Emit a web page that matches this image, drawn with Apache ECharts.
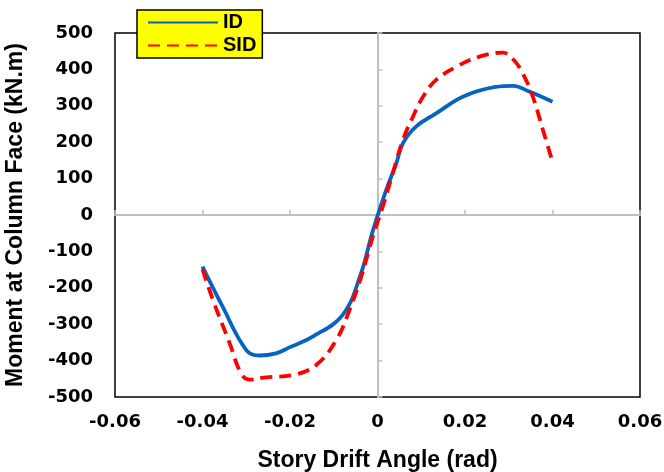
<!DOCTYPE html>
<html>
<head>
<meta charset="utf-8">
<script src="https://cdn.jsdelivr.net/npm/echarts@6/dist/echarts.min.js"></script>
<style>html,body{margin:0;padding:0;background:#fff}#c{width:664px;height:472px}</style>
</head>
<body>
<div id="c"></div>
<script>
// ID series (drift angle rad, moment kN.m)
var idX = [-0.0400, -0.0354, -0.0300, -0.0270, -0.0232, -0.0200, -0.0148, -0.0080, -0.0040, -0.0010, 0.0020, 0.0043, 0.0058, 0.0088, 0.0134, 0.0195, 0.0270, 0.0310, 0.0347, 0.0400];
var idY = [-142, -252, -371, -386, -380, -363, -334, -275, -169, -41, 69, 142, 197, 243, 279, 325, 352, 355, 339, 311];
// SID series
var sidX = [-0.0400, -0.0376, -0.0338, -0.0312, -0.0293, -0.0254, -0.0194, -0.0140, -0.0094, -0.0064, -0.0037, -0.0011, 0.0012, 0.0035, 0.0058, 0.0081, 0.0104, 0.0134, 0.0180, 0.0233, 0.0286, 0.0310, 0.0332, 0.0355, 0.0378, 0.0401];
var sidY = [-149, -234, -352, -435, -452, -446, -440, -412, -343, -261, -169, -60, 23, 115, 206, 270, 325, 371, 407, 435, 446, 428, 389, 325, 234, 142];
var seriesNames = ['ID', 'SID'];
var xTicks = {min: -0.06, max: 0.06, step: 0.02};
var yTicks = {min: -500, max: 500, step: 100};
var xTitle = 'Story Drift Angle (rad)';
var yTitle = 'Moment at Column Face (kN.m)';

function pairs(xs, ys) { return xs.map(function (x, i) { return [x, ys[i]]; }); }

var chart = echarts.init(document.getElementById('c'), null, {renderer: 'canvas'});
var tickFont = {fontFamily: 'DejaVu Sans', fontWeight: 'bold', fontSize: 18, color: '#000'};
var nameFont = {fontFamily: 'Liberation Sans', fontWeight: 'bold', fontSize: 23, color: '#000'};
chart.setOption({
  animation: false,
  backgroundColor: '#fff',
  grid: {left: 115, right: 24, top: 33, bottom: 75, containLabel: false, outerBoundsMode: 'none',
    show: true, borderColor: '#000', borderWidth: 1.5, backgroundColor: 'transparent'},
  legend: {
    data: seriesNames, orient: 'vertical', left: 137, top: 10,
    backgroundColor: '#FFFF00', borderColor: '#000', borderWidth: 1.5,
    padding: [2, 6, 2, 10], itemWidth: 70, itemHeight: 14, itemGap: 2,
    itemStyle: {opacity: 0},
    textStyle: {fontFamily: 'Liberation Sans', fontWeight: 'bold', fontSize: 20, color: '#000', lineHeight: 21}
  },
  xAxis: [{
    type: 'value', min: xTicks.min, max: xTicks.max, interval: xTicks.step, position: 'bottom',
    axisLine: {show: false, onZero: false}, axisTick: {show: false}, splitLine: {show: false},
    axisLabel: Object.assign({margin: 16, formatter: function (v) { return Math.abs(v) < 1e-9 ? '0' : v.toFixed(2); }}, tickFont),
    name: xTitle, nameLocation: 'middle', nameGap: 52, nameTextStyle: nameFont
  }, {
    type: 'value', min: xTicks.min, max: xTicks.max, interval: xTicks.step, position: 'bottom',
    axisLine: {show: true, onZero: true, onZeroAxisIndex: 0, lineStyle: {color: '#BFBFBF', width: 2}},
    axisTick: {show: true, inside: true, length: 5, lineStyle: {color: '#BFBFBF', width: 1.5}},
    axisLabel: {show: false}, splitLine: {show: false}
  }],
  yAxis: [{
    type: 'value', min: yTicks.min, max: yTicks.max, interval: yTicks.step, position: 'left',
    axisLine: {show: false, onZero: false}, axisTick: {show: false}, splitLine: {show: false},
    axisLabel: Object.assign({margin: 22}, tickFont),
    name: yTitle, nameLocation: 'middle', nameGap: 88, nameTextStyle: nameFont
  }, {
    type: 'value', min: yTicks.min, max: yTicks.max, interval: yTicks.step, position: 'left',
    axisLine: {show: true, onZero: true, onZeroAxisIndex: 0, lineStyle: {color: '#BFBFBF', width: 2}},
    axisTick: {show: true, inside: true, length: 5, lineStyle: {color: '#BFBFBF', width: 1.5}},
    axisLabel: {show: false}, splitLine: {show: false}
  }],
  series: [{
    name: seriesNames[0], type: 'line', xAxisIndex: 0, yAxisIndex: 0, data: pairs(idX, idY),
    smooth: 0.4, showSymbol: false, symbol: 'none', color: '#0563C1',
    lineStyle: {color: '#0563C1', width: 3.8}
  }, {
    name: seriesNames[1], type: 'line', xAxisIndex: 0, yAxisIndex: 0, data: pairs(sidX, sidY),
    smooth: 0.4, showSymbol: false, symbol: 'none', color: '#FF0000',
    lineStyle: {color: '#FF0000', width: 3.8, type: [12, 7]}
  }]
});
</script>
</body>
</html>
